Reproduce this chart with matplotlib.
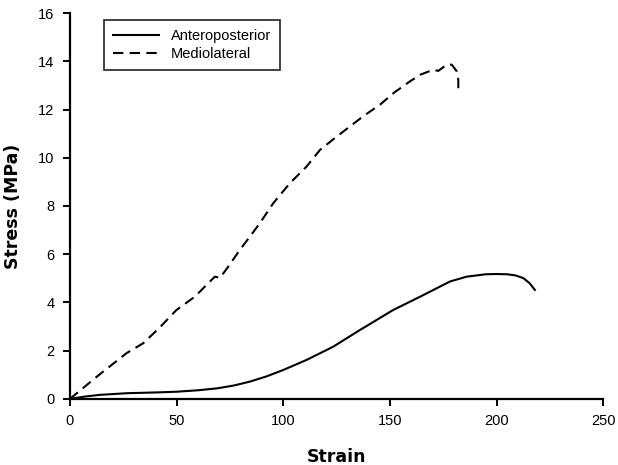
import matplotlib
matplotlib.use("Agg")
import matplotlib.pyplot as plt

ap_strain = [0, 7, 14, 27, 40, 50, 60, 69, 77, 84.4, 92, 100, 111, 123.5, 136, 151.6, 164.2, 178.2, 186, 195, 200, 205, 209, 212.6, 215.5, 218]
ap_stress = [0, 0.1, 0.17, 0.24, 0.27, 0.30, 0.36, 0.44, 0.56, 0.72, 0.93, 1.2, 1.62, 2.17, 2.86, 3.69, 4.24, 4.87, 5.07, 5.17, 5.18, 5.17, 5.12, 5.01, 4.80, 4.52]

ml_strain = [0, 13, 26.6, 34.4, 42, 50, 58.6, 66, 68, 70.4, 74.3, 79.7, 84.4, 89.1, 95.4, 103.2, 111, 117.3, 124, 131.3, 138, 145.4, 152, 159.5, 164.2, 170.4, 172.7, 176.7, 179, 181.4, 182.1, 182.1]
ml_stress = [0, 0.95, 1.9, 2.31, 2.95, 3.69, 4.24, 4.9, 5.07, 5.02, 5.49, 6.18, 6.73, 7.29, 8.12, 8.95, 9.64, 10.33, 10.8, 11.30, 11.75, 12.2, 12.7, 13.17, 13.44, 13.65, 13.6, 13.86, 13.86, 13.58, 13.24, 12.86]

x_ticks = [0, 50, 100, 150, 200, 250]
y_ticks = [0, 2, 4, 6, 8, 10, 12, 14, 16]

fig = plt.figure(figsize=(6.18, 4.65), dpi=100)
ax = fig.add_axes([0.113, 0.142, 0.863, 0.830])
ax.plot(ap_strain, ap_stress, color="black", lw=1.5, label="Anteroposterior")
ax.plot(ml_strain, ml_stress, color="black", lw=1.5, ls=(0, (5, 3)), label="Mediolateral")
ax.set_xlim(0, 250)
ax.set_ylim(0, 16)
ax.set_xticks(x_ticks)
ax.set_yticks(y_ticks)
for s in ["top", "right"]:
    ax.spines[s].set_visible(False)
for s in ["left", "bottom"]:
    ax.spines[s].set_linewidth(1.6)
ax.tick_params(direction="out", length=5, width=1.4, labelsize=10.5, pad=6)
for lbl in ax.get_xticklabels() + ax.get_yticklabels():
    lbl.set_fontfamily("Liberation Sans")
ax.set_xlabel("Strain", fontsize=12.5, fontweight="bold", family="DejaVu Sans", labelpad=14)
ax.set_ylabel("Stress (MPa)", fontsize=12.5, fontweight="bold", family="DejaVu Sans", labelpad=12)
leg = ax.legend(loc="upper left", bbox_to_anchor=(0.05, 1.0), frameon=True, fancybox=False,
                edgecolor="black", handlelength=3.2, borderpad=0.6, labelspacing=0.3,
                prop={"family": "Liberation Sans", "size": 10.5})
leg.get_frame().set_linewidth(1.3)
fig.savefig("out.png", dpi=100)
